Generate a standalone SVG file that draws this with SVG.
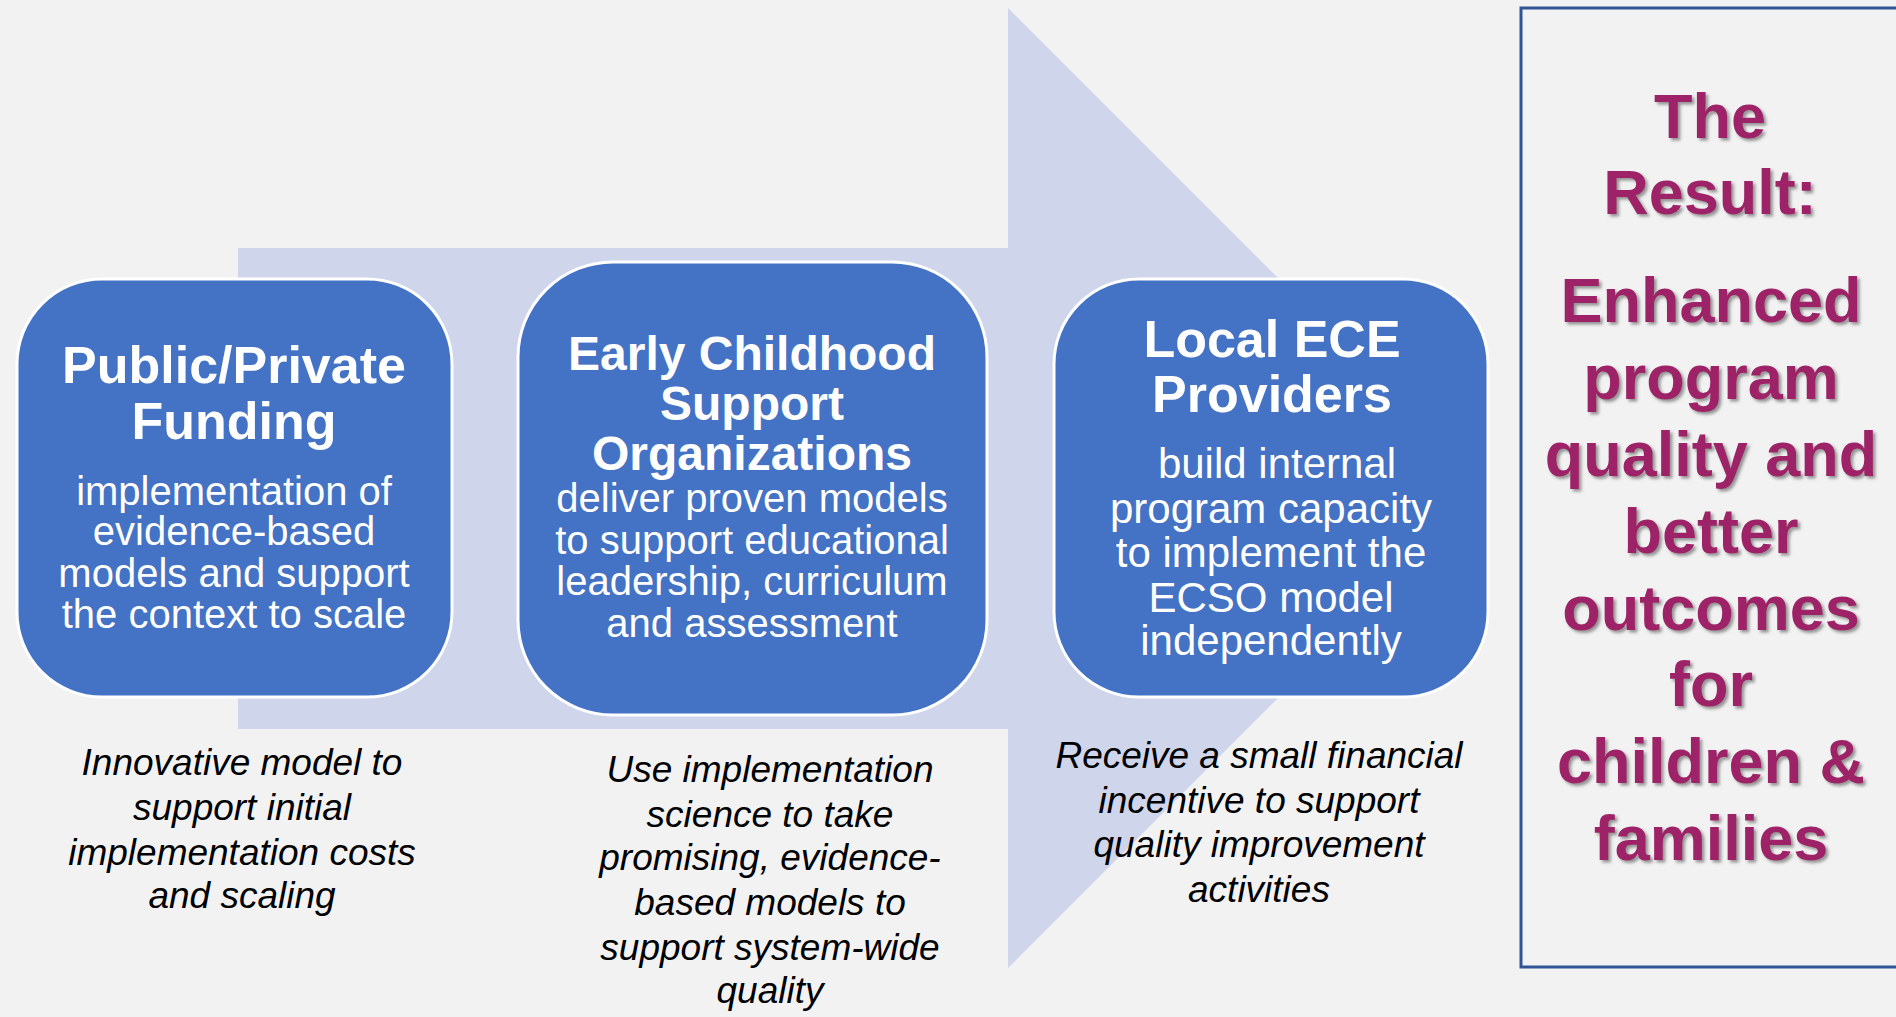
<svg xmlns="http://www.w3.org/2000/svg" width="1896" height="1017" viewBox="0 0 1896 1017">
  <defs>
    <filter id="shadow" x="-10%" y="-10%" width="120%" height="130%">
      <feDropShadow dx="2.5" dy="2.5" stdDeviation="1.5" flood-color="#6b6b6b" flood-opacity="0.7"/>
    </filter>
  </defs>
  <style>
    .box { fill: #4472C4; stroke: #FFFFFF; stroke-width: 3; }
    .title { font-family: "Liberation Sans", Arial, sans-serif; font-weight: bold; fill: #FFFFFF; text-anchor: middle; }
    .body { font-family: "Liberation Sans", Arial, sans-serif; fill: #FFFFFF; text-anchor: middle; }
    .cap { font-family: "Liberation Sans", Arial, sans-serif; font-style: italic; fill: #000000; text-anchor: middle; font-size: 37px; }
    .result { font-family: "Liberation Sans", Arial, sans-serif; font-weight: bold; fill: #9E2167; text-anchor: middle; font-size: 63px; }
  </style>
  <rect x="0" y="0" width="1896" height="1017" fill="#F2F2F2"/>

  <g id="connectors">
    <polygon id="big-arrow" points="238,248 1008,248 1008,8 1488,488 1008,968 1008,729 238,729" fill="#CFD5EA"/>
  </g>

  <g id="node-funding">
    <rect class="box" x="17" y="279" width="435" height="418" rx="85" ry="85"/>
    <text class="title" font-size="52" x="234" y="383">Public/Private</text>
    <text class="title" font-size="52" x="234" y="439">Funding</text>
    <text class="body" font-size="40" x="234" y="505">implementation of</text>
    <text class="body" font-size="40" x="234" y="545">evidence-based</text>
    <text class="body" font-size="40" x="234" y="587">models and support</text>
    <text class="body" font-size="40" x="234" y="628">the context to scale</text>
  </g>

  <g id="node-ecso">
    <rect class="box" x="518" y="262" width="469" height="453" rx="95" ry="95"/>
    <text class="title" font-size="48" x="752" y="370">Early Childhood</text>
    <text class="title" font-size="48" x="752" y="420">Support</text>
    <text class="title" font-size="48" x="752" y="470">Organizations</text>
    <text class="body" font-size="40" x="752" y="512">deliver proven models</text>
    <text class="body" font-size="40" x="752" y="554">to support educational</text>
    <text class="body" font-size="40" x="752" y="595">leadership, curriculum</text>
    <text class="body" font-size="40" x="752" y="637">and assessment</text>
  </g>

  <g id="node-providers">
    <rect class="box" x="1054" y="279" width="434" height="418" rx="85" ry="85"/>
    <text class="title" font-size="52" x="1272" y="357">Local ECE</text>
    <text class="title" font-size="52" x="1272" y="412">Providers</text>
    <text class="body" font-size="42" x="1277" y="478">build internal</text>
    <text class="body" font-size="42" x="1271" y="523">program capacity</text>
    <text class="body" font-size="42" x="1271" y="567">to implement the</text>
    <text class="body" font-size="42" x="1271" y="612">ECSO model</text>
    <text class="body" font-size="42" x="1271" y="655">independently</text>
  </g>

  <g id="caption-funding">
    <text class="cap" x="242" y="775">Innovative model to</text>
    <text class="cap" x="242" y="820">support initial</text>
    <text class="cap" x="242" y="865">implementation costs</text>
    <text class="cap" x="242" y="908">and scaling</text>
  </g>

  <g id="caption-ecso">
    <text class="cap" x="770" y="782">Use implementation</text>
    <text class="cap" x="770" y="827">science to take</text>
    <text class="cap" x="770" y="870">promising, evidence-</text>
    <text class="cap" x="770" y="915">based models to</text>
    <text class="cap" x="770" y="960">support system-wide</text>
    <text class="cap" x="770" y="1003">quality</text>
  </g>

  <g id="caption-providers">
    <text class="cap" x="1259" y="768">Receive a small financial</text>
    <text class="cap" x="1259" y="813">incentive to support</text>
    <text class="cap" x="1259" y="857">quality improvement</text>
    <text class="cap" x="1259" y="902">activities</text>
  </g>

  <g id="node-result">
    <rect x="1521" y="8" width="390" height="959" fill="none" stroke="#2F5597" stroke-width="3"/>
    <g filter="url(#shadow)">
      <text class="result" x="1710" y="138">The</text>
      <text class="result" x="1710" y="214">Result:</text>
      <text class="result" x="1711" y="322">Enhanced</text>
      <text class="result" x="1711" y="399">program</text>
      <text class="result" x="1711" y="476">quality and</text>
      <text class="result" x="1711" y="553">better</text>
      <text class="result" x="1711" y="630">outcomes</text>
      <text class="result" x="1711" y="706">for</text>
      <text class="result" x="1711" y="783">children &amp;</text>
      <text class="result" x="1711" y="860">families</text>
    </g>
  </g>
</svg>
